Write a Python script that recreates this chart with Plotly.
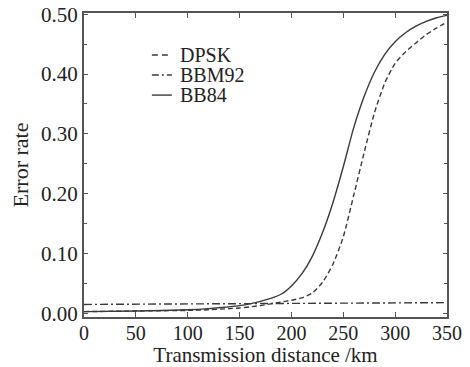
import plotly.graph_objects as go

distance = [0, 50, 100, 120, 140, 150, 160, 170, 180, 190, 200, 210, 220, 230, 240,
            250, 260, 270, 280, 290, 300, 310, 320, 330, 340, 350]
bb84 = [0.003, 0.004, 0.006, 0.008, 0.011, 0.013, 0.016, 0.020, 0.025, 0.032, 0.046,
        0.066, 0.095, 0.135, 0.185, 0.245, 0.310, 0.362, 0.403, 0.433, 0.454, 0.469,
        0.480, 0.488, 0.494, 0.498]
dpsk = [0.003, 0.004, 0.005, 0.006, 0.008, 0.009, 0.011, 0.013, 0.016, 0.019, 0.022,
        0.026, 0.034, 0.052, 0.082, 0.128, 0.197, 0.268, 0.335, 0.385, 0.418, 0.437,
        0.452, 0.466, 0.477, 0.487]
bbm92_x = [0, 100, 200, 300, 350]
bbm92 = [0.015, 0.0155, 0.016, 0.017, 0.018]

series_names = ["DPSK", "BBM92", "BB84"]

x_ticks = [0, 50, 100, 150, 200, 250, 300, 350]
y_ticks = [0.0, 0.1, 0.2, 0.3, 0.4, 0.5]
y_labels = ["0.00", "0.10", "0.20", "0.30", "0.40", "0.50"]

FONT = "Liberation Serif"
LINE = "#3a3a3a"
AX = "#555555"
DASHES = {"DPSK": "5px,3px", "BBM92": "8px,3px,2px,3px", "BB84": "solid"}

fig = go.Figure()
fig.add_trace(go.Scatter(x=distance, y=dpsk, mode="lines", name="DPSK",
                         line=dict(color=LINE, width=1.4, dash=DASHES["DPSK"],
                                   shape="spline", smoothing=0.6)))
fig.add_trace(go.Scatter(x=bbm92_x, y=bbm92, mode="lines", name="BBM92",
                         line=dict(color=LINE, width=1.4, dash=DASHES["BBM92"])))
fig.add_trace(go.Scatter(x=distance, y=bb84, mode="lines", name="BB84",
                         line=dict(color=LINE, width=1.4,
                                   shape="spline", smoothing=0.6)))

# hand-drawn legend (keys in plot-area paper coordinates)
leg_x0, leg_x1, leg_tx = 0.187, 0.242, 0.259
leg_y = [0.862, 0.796, 0.730]
key_dash = {"DPSK": "6px,4px", "BBM92": "7px,3px,2px,3px", "BB84": "solid"}
for name, yy in zip(series_names, leg_y):
    fig.add_shape(type="line", xref="paper", yref="paper",
                  x0=leg_x0, x1=leg_x1, y0=yy, y1=yy,
                  line=dict(color=LINE, width=1.4, dash=key_dash[name]))
    fig.add_annotation(text=name, xref="paper", yref="paper", x=leg_tx, y=yy,
                       xanchor="left", yanchor="middle", showarrow=False,
                       font=dict(family=FONT, size=20, color="#222222"))

fig.update_layout(
    width=470, height=367,
    margin=dict(l=84, r=23, t=13, b=50),
    paper_bgcolor="white", plot_bgcolor="white",
    font=dict(family=FONT, size=21, color="#222222"),
    showlegend=False,
    xaxis=dict(range=[0, 350], tickvals=x_ticks, ticks="inside", ticklen=5,
               tickcolor=AX, showline=True, linecolor=AX, linewidth=2,
               mirror="ticks", showgrid=False, zeroline=False, automargin=False,
               ticklabeloverflow="allow", ticklabelstandoff=-3,
               tickfont=dict(family=FONT, size=20),
               title=dict(text="Transmission distance /km", standoff=1,
                          font=dict(family=FONT, size=21))),
    yaxis=dict(range=[-0.006, 0.502], tickvals=y_ticks, ticktext=y_labels,
               ticks="inside", ticklen=4, tickcolor=AX, showline=True,
               linecolor=AX, linewidth=2, mirror="ticks", showgrid=False,
               zeroline=False, automargin=False, ticklabeloverflow="allow",
               minor=dict(tickvals=[0.05, 0.15, 0.25, 0.35, 0.45], ticks="inside",
                          ticklen=3, tickcolor=AX),
               title=dict(text="Error rate", standoff=6,
                          font=dict(family=FONT, size=22))),
)

fig.write_html("out.html", config={"displayModeBar": False},
               post_script="document.body.style.margin='0';")
